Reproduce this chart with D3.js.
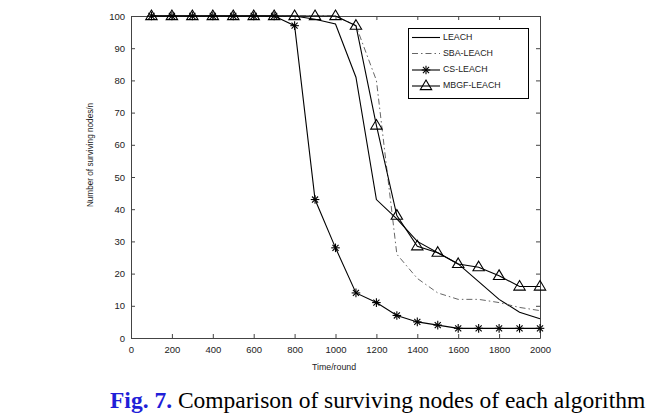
<!DOCTYPE html>
<html>
<head>
<meta charset="utf-8">
<script src="https://cdn.jsdelivr.net/npm/d3@7"></script>
<style>
  html, body { margin: 0; padding: 0; background: #fff; }
  svg { display: block; }
  text { font-family: Arial, "Liberation Sans", Helvetica, sans-serif; }
</style>
</head>
<body>
<svg id="chart" width="661" height="416"></svg>
<script>
// ---- data ----
const rounds   = [100, 200, 300, 400, 500, 600, 700, 800, 900, 1000, 1100, 1200, 1300, 1400, 1500, 1600, 1700, 1800, 1900, 2000];
const leach    = [100, 100, 100, 100, 100, 100, 100, 100, 99, 97.5, 81, 43, 37, 30, 26.5, 23, 17.5, 12, 8, 6];
const sbaLeach = [100, 100, 100, 100, 100, 100, 100, 100, 100, 100, 97, 80, 26, 18.5, 14, 12, 12, 11, 9.5, 8.5];
const csLeach  = [100, 100, 100, 100, 100, 100, 100, 97, 43, 28, 14, 11, 7, 5, 4, 3, 3, 3, 3, 3];
const mbgfLeach= [100, 100, 100, 100, 100, 100, 100, 100, 100, 100, 97, 66, 38, 28.5, 26.5, 23, 22, 19.3, 16, 16];
const seriesNames = ["LEACH", "SBA-LEACH", "CS-LEACH", "MBGF-LEACH"];
const xTicks = [0, 200, 400, 600, 800, 1000, 1200, 1400, 1600, 1800, 2000];
const yTicks = [0, 10, 20, 30, 40, 50, 60, 70, 80, 90, 100];
const xLabel = "Time/round";
const yLabel = "Number of surviving nodes/n";

// ---- layout ----
const svg = d3.select("#chart");
const x = d3.scaleLinear().domain([0, 2000]).range([131, 540]);
const y = d3.scaleLinear().domain([0, 100]).range([338, 16]);
const axisColor = "#444";
const textColor = "#222";
const fmt = d3.format("d");

// axes
const gL = svg.append("g").attr("transform", `translate(${x(0)},0)`)
  .call(d3.axisLeft(y).tickValues(yTicks).tickFormat(fmt).tickSizeInner(-4).tickSizeOuter(0).tickPadding(6));
const gB = svg.append("g").attr("transform", `translate(0,${y(0)})`)
  .call(d3.axisBottom(x).tickValues(xTicks).tickFormat(fmt).tickSizeInner(-4).tickSizeOuter(0).tickPadding(8));
const gR = svg.append("g").attr("transform", `translate(${x(2000)},0)`)
  .call(d3.axisRight(y).tickValues(yTicks).tickSizeInner(-4).tickSizeOuter(0).tickFormat(""));
const gT = svg.append("g").attr("transform", `translate(0,${y(100)})`)
  .call(d3.axisTop(x).tickValues(xTicks).tickSizeInner(-4).tickSizeOuter(0).tickFormat(""));
[gL, gB, gR, gT].forEach(g => {
  g.selectAll("path.domain").attr("stroke", axisColor).attr("stroke-width", 1);
  g.selectAll(".tick line").attr("stroke", axisColor);
  g.selectAll(".tick text").attr("fill", textColor).style("font-size", "9.5px")
    .style("font-family", "Arial, 'Liberation Sans', sans-serif");
});

svg.append("text").attr("x", 334).attr("y", 368).attr("text-anchor", "middle")
  .attr("dominant-baseline", "middle").attr("fill", textColor).style("font-size", "8.8px").text(xLabel);
svg.append("text").attr("transform", `translate(91,155) rotate(-90)`)
  .attr("text-anchor", "middle").attr("dominant-baseline", "middle")
  .attr("fill", textColor).style("font-size", "8.2px").text(yLabel);

// ---- lines ----
const line = d3.line().x(d => x(d[0])).y(d => y(d[1]));
const allSeries = [leach, sbaLeach, csLeach, mbgfLeach];
const dashes = [null, "6,3,1.5,3", null, null];
const g = svg.append("g");
allSeries.forEach((s, i) => {
  g.append("path").datum(rounds.map((r, j) => [r, s[j]]))
    .attr("d", line).attr("fill", "none").attr("stroke", i === 1 ? "#555" : "#000")
    .attr("stroke-width", i === 1 ? 0.9 : 1.1)
    .attr("stroke-dasharray", dashes[i]);
});

// markers
function star(sel, cx, cy, r) {
  const gg = sel.append("g").attr("transform", `translate(${cx},${cy})`);
  [0, 45, 90, 135].forEach(a => {
    const rad = a * Math.PI / 180;
    gg.append("line").attr("x1", -r * Math.cos(rad)).attr("y1", -r * Math.sin(rad))
      .attr("x2", r * Math.cos(rad)).attr("y2", r * Math.sin(rad))
      .attr("stroke", "#000").attr("stroke-width", 1.1);
  });
}
function tri(sel, cx, cy, r) {
  sel.append("path")
    .attr("d", `M${cx},${cy - r} L${cx + r * 0.95},${cy + r * 0.6} L${cx - r * 0.95},${cy + r * 0.6} Z`)
    .attr("fill", "none").attr("stroke", "#000").attr("stroke-width", 1.1);
}
rounds.forEach((r, j) => star(g, x(r), y(csLeach[j]), 4.3));
rounds.forEach((r, j) => tri(g, x(r), y(mbgfLeach[j]), 6));

// ---- legend ----
const lg = svg.append("g");
lg.append("rect").attr("x", 408.5).attr("y", 28.5).attr("width", 120).attr("height", 70)
  .attr("fill", "#fff").attr("stroke", "#000").attr("stroke-width", 1);
const legY = [37.5, 53.5, 70, 86];
seriesNames.forEach((n, i) => {
  lg.append("line").attr("x1", 412).attr("x2", 440).attr("y1", legY[i]).attr("y2", legY[i])
    .attr("stroke", i === 1 ? "#555" : "#000").attr("stroke-width", i === 1 ? 0.9 : 1.1)
    .attr("stroke-dasharray", dashes[i]);
  if (i === 2) star(lg, 426, legY[i], 4.3);
  if (i === 3) tri(lg, 426, legY[i], 6);
  lg.append("text").attr("x", 443).attr("y", legY[i]).attr("dominant-baseline", "middle")
    .attr("fill", textColor).style("font-size", "8.8px").text(n);
});

// ---- caption ----
const cap = svg.append("text").attr("x", 110).attr("y", 408)
  .style("font-family", "'Liberation Serif', 'Times New Roman', serif").style("font-size", "23.5px");
cap.append("tspan").attr("fill", "#1f1fd8").attr("font-weight", "bold").text("Fig. 7.");
cap.append("tspan").attr("fill", "#000").text(" Comparison of surviving nodes of each algorithm");
</script>
</body>
</html>
